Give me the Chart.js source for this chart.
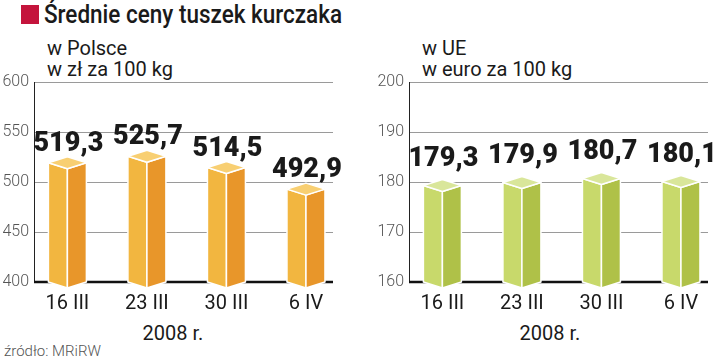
<!DOCTYPE html>
<html>
<head>
<meta charset="utf-8">
<script src="https://cdn.jsdelivr.net/npm/chart.js@4.4.1/dist/chart.umd.min.js"></script>
<style>
  body { margin: 0; background: #fff; width: 720px; height: 362px; overflow: hidden; position: relative; font-family: Roboto, sans-serif; color: #1a1a1a; }
  .t { position: absolute; white-space: nowrap; }
  canvas { position: absolute; top: 0; }
</style>
</head>
<body>
<div class="t" style="left:21px;top:5px;width:18px;height:19px;background:#c4143c"></div>
<div class="t" style="left:44px;top:2px;font-size:25px;line-height:25px;font-weight:500;transform:scaleX(.9);transform-origin:0 0">Średnie ceny tuszek kurczaka</div>
<div class="t" style="left:47px;top:38px;font-size:20px;line-height:21px">w Polsce<br>w zł za 100 kg</div>
<div class="t" style="left:422px;top:38px;font-size:20px;line-height:21px">w UE<br>w euro za 100 kg</div>
<div class="t" style="left:123px;width:100px;text-align:center;top:323px;font-size:20px;line-height:20px">2008 r.</div>
<div class="t" style="left:500px;width:100px;text-align:center;top:323px;font-size:20px;line-height:20px">2008 r.</div>
<div class="t" style="left:4px;top:344px;font-size:15px;line-height:15px;color:#555;font-weight:300">źródło: MRiRW</div>
<canvas id="pl" width="360" height="362" style="left:0"></canvas>
<canvas id="ue" width="360" height="362" style="left:360px"></canvas>
<script>
const categories = ['16 III', '23 III', '30 III', '6 IV'];
const plValues = [519.3, 525.7, 514.5, 492.9];
const ueValues = [179.3, 179.9, 180.7, 180.1];
const plTicks = [400, 600, 50];   // min, max, step
const ueTicks = [160, 200, 10];

// front edge + two faces + top diamond, drawn on top of each (invisible) bar
const bars3d = {
  id: 'bars3d',
  beforeDatasetsDraw(chart) {
    const { ctx, chartArea: a } = chart;
    ctx.save();
    ctx.strokeStyle = '#111';
    ctx.lineWidth = 2.5;
    ctx.beginPath();
    ctx.moveTo(a.left, a.bottom);
    ctx.lineTo(a.right, a.bottom);
    ctx.stroke();
    ctx.restore();
  },
  afterDatasetsDraw(chart, args, o) {
    const ctx = chart.ctx;
    const b = chart.scales.y.bottom;
    const hw = 19, d = 6;

    function face(pts, col) {
      ctx.beginPath();
      pts.forEach((p, i) => i ? ctx.lineTo(p[0], p[1]) : ctx.moveTo(p[0], p[1]));
      ctx.closePath();
      ctx.fillStyle = col;
      ctx.fill();
      ctx.stroke();
    }

    ctx.save();
    ctx.strokeStyle = '#fff';
    ctx.lineWidth = 1.5;
    ctx.lineJoin = 'round';
    chart.getDatasetMeta(0).data.forEach((bar, i) => {
      const xc = bar.x, yv = bar.y;
      face([[xc - hw, yv], [xc, yv + d], [xc, b + d], [xc - hw, b]], o.front);
      face([[xc, yv + d], [xc + hw, yv], [xc + hw, b], [xc, b + d]], o.side);
      face([[xc - hw, yv], [xc, yv - d], [xc + hw, yv], [xc, yv + d]], o.top);

      ctx.fillStyle = '#1a1a1a';
      ctx.font = '900 27px Roboto';
      ctx.textAlign = 'center';
      ctx.textBaseline = 'alphabetic';
      ctx.fillText(o.values[i].toFixed(1).replace('.', ','), xc + 1, yv - d - o.gap);
    });
    ctx.restore();
  }
};

function makeChart(id, values, range, axisW, padRight, colors, gap) {
  new Chart(document.getElementById(id), {
    type: 'bar',
    data: {
      datasets: [{
        data: values.map((v, i) => ({ x: i, y: v })),
        backgroundColor: 'rgba(0,0,0,0)',
        barThickness: 38
      }]
    },
    options: {
      responsive: false,
      animation: false,
      layout: { padding: { top: 82, right: padRight, left: 0, bottom: 0 } },
      plugins: {
        legend: { display: false },
        tooltip: { enabled: false },
        bars3d: { values: values, front: colors[0], side: colors[1], top: colors[2], gap: gap }
      },
      scales: {
        x: {
          type: 'linear',
          offset: false,
          min: -0.42,
          max: 3.34,
          grid: { display: false, drawTicks: false },
          border: { display: false },
          afterBuildTicks: s => { s.ticks = categories.map((c, i) => ({ value: i })); },
          ticks: {
            autoSkip: false,
            maxRotation: 0,
            padding: 10,
            color: '#1a1a1a',
            font: { family: 'Roboto', size: 20 },
            callback: v => categories[v]
          },
          afterFit: s => { s.height = 80; }
        },
        y: {
          min: range[0],
          max: range[1],
          ticks: {
            stepSize: range[2],
            padding: 5,
            color: '#555',
            font: { family: 'Roboto', size: 16, weight: 300 }
          },
          grid: { color: '#9a9a9a', lineWidth: 1, drawTicks: false },
          border: { color: '#222', width: 1 },
          afterFit: s => { s.width = axisW; }
        }
      }
    },
    plugins: [bars3d]
  });
}

makeChart('pl', plValues, plTicks, 34, 27, ['#f2b640', '#e8962a', '#f8cf72'], 6);
makeChart('ue', ueValues, ueTicks, 49, 12, ['#c8d96b', '#afc148', '#d9e69a'], 14);
</script>
</body>
</html>
